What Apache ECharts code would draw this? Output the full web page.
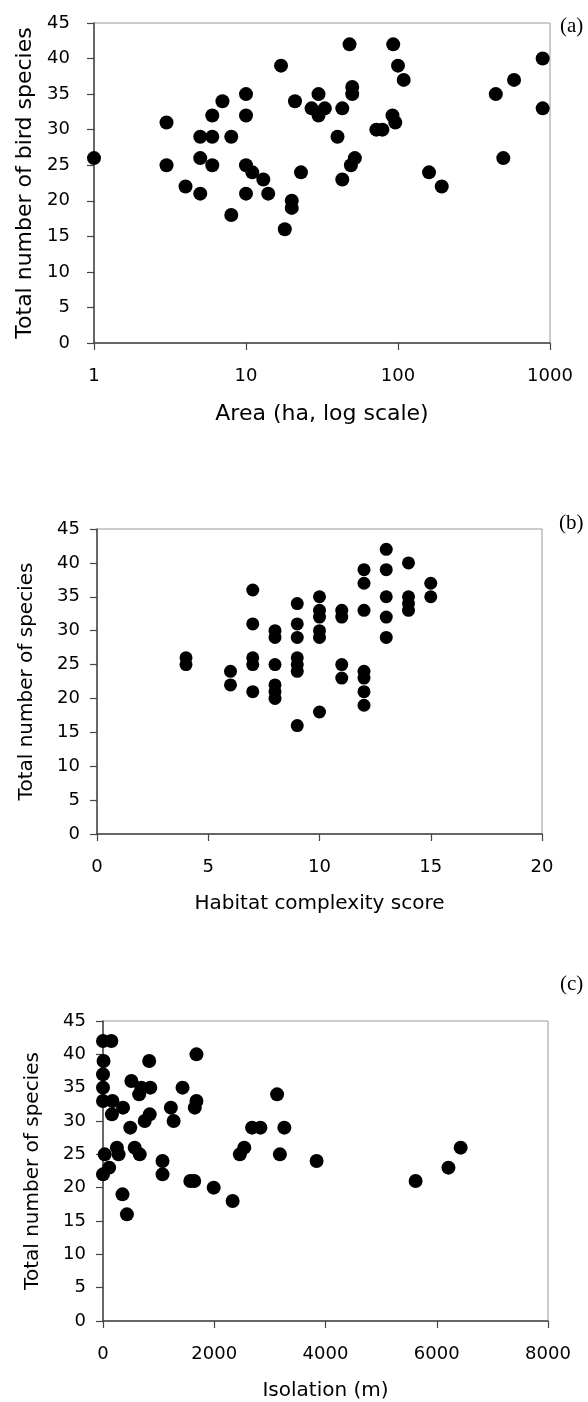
<!DOCTYPE html>
<html>
<head>
<meta charset="utf-8">
<script src="https://cdn.jsdelivr.net/npm/echarts@6/dist/echarts.min.js"></script>
<style>
html,body{margin:0;padding:0;background:#fff;}
#chart{width:588px;height:1402px;}
</style>
</head>
<body>
<div id="chart"></div>
<script>
// Panel (a): area (ha, log scale) vs total number of bird species
const areaHa = [1, 3, 3, 4, 5, 5, 5, 6, 6, 6, 7, 8, 8, 10, 10, 10, 10, 11, 13, 14, 17, 18, 20, 20, 21, 23, 27, 30, 30, 33, 48, 43, 40, 43, 50, 50, 52, 49, 72, 79, 93, 100, 109, 92, 96, 160, 194, 440, 580, 493, 895, 895];
const speciesA = [26, 31, 25, 22, 29, 26, 21, 29, 32, 25, 34, 29, 18, 35, 32, 25, 21, 24, 23, 21, 39, 16, 20, 19, 34, 24, 33, 35, 32, 33, 42, 33, 29, 23, 36, 35, 26, 25, 30, 30, 42, 39, 37, 32, 31, 24, 22, 35, 37, 26, 40, 33];

// Panel (b): habitat complexity score vs total number of species
const habitatScore = [4, 4, 6, 6, 7, 7, 7, 7, 7, 8, 8, 8, 8, 8, 8, 9, 9, 9, 9, 9, 9, 9, 10, 10, 10, 10, 10, 10, 11, 11, 11, 11, 12, 12, 12, 12, 12, 12, 12, 13, 13, 13, 13, 13, 14, 14, 14, 14, 15, 15];
const speciesB = [26, 25, 24, 22, 36, 31, 26, 25, 21, 30, 29, 25, 22, 21, 20, 34, 31, 29, 26, 25, 24, 16, 35, 33, 32, 30, 29, 18, 33, 32, 25, 23, 39, 37, 33, 24, 23, 21, 19, 42, 39, 35, 32, 29, 40, 35, 34, 33, 37, 35];

// Panel (c): isolation (m) vs total number of species
const isolationM = [0, 150, 10, 0, 0, 0, 170, 160, 360, 30, 0, 110, 250, 280, 350, 430, 510, 490, 570, 660, 650, 690, 850, 830, 750, 840, 1070, 1070, 1220, 1270, 1430, 1570, 1640, 1680, 1680, 1650, 1990, 2330, 2460, 2540, 2680, 2830, 3130, 3260, 3180, 3840, 5620, 6210, 6430];
const speciesC = [42, 42, 39, 37, 35, 33, 33, 31, 32, 25, 22, 23, 26, 25, 19, 16, 36, 29, 26, 25, 34, 35, 35, 39, 30, 31, 24, 22, 32, 30, 35, 21, 21, 40, 33, 32, 20, 18, 25, 26, 29, 29, 34, 29, 25, 24, 21, 23, 26];

const panelLabels = ['(a)', '(b)', '(c)'];
const xNames = ['Area (ha, log scale)', 'Habitat complexity score', 'Isolation (m)'];
const yNames = ['Total number of bird species', 'Total number of species', 'Total number of species'];

const zip = (xs, ys) => xs.map((x, i) => [x, ys[i]]);

const sans = 'DejaVu Sans';
const axisColor = '#444';

function yAxisCfg(gi, name, fs, gap, margin) {
  return {
    gridIndex: gi, type: 'value', min: 0, max: 45, interval: 5,
    axisLine: { show: true, lineStyle: { color: axisColor, width: 1.5 } },
    axisTick: { show: true, inside: false, length: 7, lineStyle: { color: axisColor, width: 1.2 } },
    axisLabel: { fontFamily: sans, fontSize: 18, color: '#000', margin: margin },
    splitLine: { show: false },
    name: name, nameLocation: 'middle', nameGap: gap,
    nameTextStyle: { fontFamily: sans, fontSize: fs, color: '#000' }
  };
}

function xAxisBase(gi, name, fs, gap) {
  return {
    gridIndex: gi,
    axisLine: { show: true, onZero: false, lineStyle: { color: axisColor, width: 1.5 } },
    axisTick: { show: true, inside: false, length: 7, lineStyle: { color: axisColor, width: 1.2 } },
    axisLabel: { fontFamily: sans, fontSize: 18, color: '#000', margin: 24,
      formatter: v => String(Math.round(v)) },
    splitLine: { show: false },
    minorTick: { show: false },
    name: name, nameLocation: 'middle', nameGap: gap,
    nameTextStyle: { fontFamily: sans, fontSize: fs, color: '#000' }
  };
}

const gridStyle = { show: true, borderColor: '#9a9a9a', borderWidth: 1, backgroundColor: 'transparent', containLabel: false, outerBoundsMode: 'none' };
const labelStyle = { fontFamily: 'Liberation Serif', fontSize: 21, fontWeight: 'normal', color: '#000' };

const option = {
  animation: false,
  backgroundColor: '#fff',
  title: [
    { text: panelLabels[0], left: 555, top: 11, textStyle: labelStyle },
    { text: panelLabels[1], left: 554, top: 508, textStyle: labelStyle },
    { text: panelLabels[2], left: 555, top: 969, textStyle: labelStyle }
  ],
  grid: [
    Object.assign({ left: 94, top: 23, width: 456, height: 320 }, gridStyle),
    Object.assign({ left: 97, top: 529, width: 445, height: 305 }, gridStyle),
    Object.assign({ left: 103, top: 1021, width: 445, height: 300 }, gridStyle)
  ],
  xAxis: [
    Object.assign(xAxisBase(0, xNames[0], 22, 60), { type: 'log', logBase: 10, min: 1, max: 1000 }),
    Object.assign(xAxisBase(1, xNames[1], 20, 60), { type: 'value', min: 0, max: 20, interval: 5 }),
    Object.assign(xAxisBase(2, xNames[2], 20, 60), { type: 'value', min: 0, max: 8000, interval: 2000 })
  ],
  yAxis: [
    yAxisCfg(0, yNames[0], 22, 58, 24),
    yAxisCfg(1, yNames[1], 20, 60, 17),
    yAxisCfg(2, yNames[2], 20, 60, 17)
  ],
  series: [
    { type: 'scatter', xAxisIndex: 0, yAxisIndex: 0, data: zip(areaHa, speciesA), symbol: 'circle', symbolSize: 14, clip: false, itemStyle: { color: '#000', opacity: 1 } },
    { type: 'scatter', xAxisIndex: 1, yAxisIndex: 1, data: zip(habitatScore, speciesB), symbol: 'circle', symbolSize: 13, clip: false, itemStyle: { color: '#000', opacity: 1 } },
    { type: 'scatter', xAxisIndex: 2, yAxisIndex: 2, data: zip(isolationM, speciesC), symbol: 'circle', symbolSize: 14, clip: false, itemStyle: { color: '#000', opacity: 1 } }
  ]
};

const chart = echarts.init(document.getElementById('chart'), null, { renderer: 'canvas' });
chart.setOption(option);
</script>
</body>
</html>
